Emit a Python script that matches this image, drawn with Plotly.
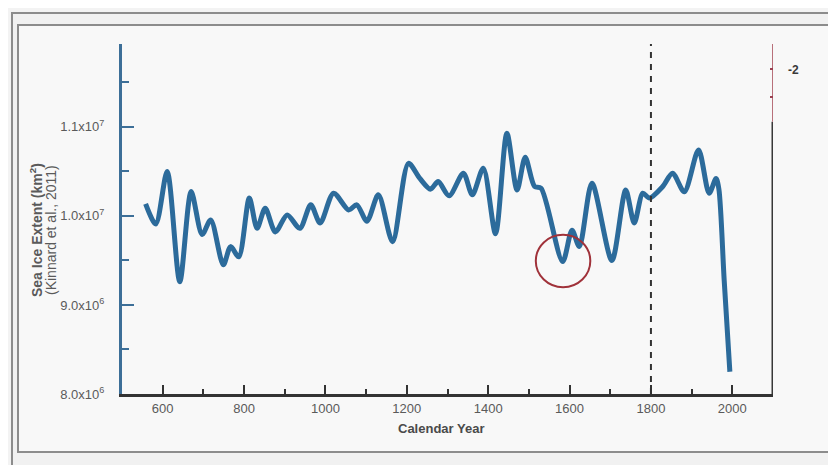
import plotly.graph_objects as go

# ---- data ----
years = [558, 583, 611, 642, 670, 697, 718, 749, 767, 787, 813, 832, 852, 877,
         906, 937, 964, 987, 1020, 1057, 1077, 1102, 1130, 1165, 1204, 1232,
         1258, 1277, 1304, 1339, 1361, 1388, 1418, 1446, 1471, 1491, 1514,
         1530, 1583, 1606, 1624, 1655, 1704, 1738, 1759, 1780, 1796, 1829,
         1853, 1882, 1917, 1943, 1960, 1967, 1980, 1994]
extent = [1.0135e7, 9.91e6, 1.0498e7, 9.26e6, 1.0273e7, 9.79e6, 9.955e6,
          9.45e6, 9.655e6, 9.54e6, 1.020e7, 9.86e6, 1.0086e7, 9.82e6,
          1.001e7, 9.86e6, 1.0124e7, 9.92e6, 1.0255e7, 1.0067e7, 1.0124e7,
          9.94e6, 1.0236e7, 9.71e6, 1.059e7, 1.042e7, 1.030e7, 1.0385e7,
          1.0225e7, 1.0479e7, 1.0236e7, 1.0535e7, 9.80e6, 1.0929e7, 1.029e7,
          1.0658e7, 1.033e7, 1.031e7, 9.487e6, 9.84e6, 9.655e6, 1.0367e7,
          9.50e6, 1.029e7, 9.92e6, 1.0255e7, 1.020e7, 1.033e7, 1.048e7,
          1.027e7, 1.074e7, 1.0255e7, 1.042e7, 1.030e7, 9.28e6, 8.25e6]

x_ticks = [600, 800, 1000, 1200, 1400, 1600, 1800, 2000]
y_ticks = [8.0e6, 9.0e6, 1.0e7, 1.1e7]
y_tick_labels = ["8.0x10<sup>6</sup>", "9.0x10<sup>6</sup>",
                 "1.0x10<sup>7</sup>", "1.1x10<sup>7</sup>"]
x_range = [500, 2100]
y_range = [8.0e6, 1.193e7]
marker_year = 1800
circle_box = [1517, 1651, 9.20e6, 9.787e6]
right_axis_split = 1.1056e7

# ---- layout geometry (pixels in the 836x465 window) ----
OFF = 8  # default page body margin
W, H = 836 - OFF, 465 - OFF
L, R, T, B = 122, 773, 44, 394
pw, ph = R - L, B - T


def px(xp):
    return (xp - L) / pw


def py(yp):
    return (B - yp) / ph


FONT = "Liberation Sans, Arial, sans-serif"
GREY_TXT = "#5a5a5a"
LINE_BLUE = "#2c6b9b"

fig = go.Figure()
fig.add_trace(go.Scatter(
    x=years, y=extent, mode="lines",
    line=dict(color=LINE_BLUE, width=5, shape="spline", smoothing=0.8),
    showlegend=False, hoverinfo="x+y"))

shapes = []
# outer window frame
shapes.append(dict(type="rect", xref="paper", yref="paper",
                   x0=px(12), x1=px(860), y0=py(13), y1=py(480),
                   line=dict(color="#8c8c8c", width=2), fillcolor="#f1f1f1",
                   layer="below"))
# inner chart frame
shapes.append(dict(type="rect", xref="paper", yref="paper",
                   x0=px(18), x1=px(832), y0=py(25), y1=py(452),
                   line=dict(color="#8c8c8c", width=2), fillcolor="#f8f8f8",
                   layer="below"))
# dashed marker at 1800
shapes.append(dict(type="line", xref="x", yref="y",
                   x0=marker_year, x1=marker_year, y0=y_range[0], y1=y_range[1],
                   line=dict(color="#333333", width=2, dash="6px,6px")))
# red circle
shapes.append(dict(type="circle", xref="x", yref="y",
                   x0=circle_box[0], x1=circle_box[1],
                   y0=circle_box[2], y1=circle_box[3],
                   line=dict(color="#a0323a", width=2)))
# right axis (dark part + red part)
shapes.append(dict(type="line", xref="x", yref="y",
                   x0=x_range[1], x1=x_range[1], y0=y_range[0], y1=right_axis_split,
                   line=dict(color="#383838", width=3)))
shapes.append(dict(type="line", xref="x", yref="y",
                   x0=x_range[1], x1=x_range[1], y0=right_axis_split, y1=y_range[1],
                   line=dict(color="#b8707a", width=2)))
for yy in (69, 97):
    shapes.append(dict(type="line", xref="paper", yref="paper",
                       x0=px(770), x1=px(773), y0=py(yy), y1=py(yy),
                       line=dict(color="#9a4050", width=2)))

annotations = [
    dict(text="<b>-2</b>", xref="paper", yref="paper", x=px(786), y=py(70),
         xanchor="left", yanchor="middle", showarrow=False,
         font=dict(family=FONT, size=12, color="#3a3a3a")),
    dict(text="<b>Sea Ice Extent (km<sup>2</sup>)</b>", xref="paper", yref="paper",
         x=px(36), y=py(230), textangle=-90, showarrow=False,
         xanchor="center", yanchor="middle",
         font=dict(family=FONT, size=14, color=GREY_TXT)),
    dict(text="(Kinnard et al., 2011)", xref="paper", yref="paper",
         x=px(51), y=py(230), textangle=-90, showarrow=False,
         xanchor="center", yanchor="middle",
         font=dict(family=FONT, size=14, color=GREY_TXT)),
    dict(text="<b>Calendar Year</b>", xref="paper", yref="paper",
         x=px(441), y=py(428), showarrow=False,
         xanchor="center", yanchor="middle",
         font=dict(family=FONT, size=13, color="#4a4a4a")),
]

fig.update_layout(
    width=W, height=H,
    margin=dict(l=L - OFF, r=W - (R - OFF), t=T - OFF, b=H - (B - OFF), pad=0),
    paper_bgcolor="#f3f3f3", plot_bgcolor="rgba(0,0,0,0)",
    shapes=shapes, annotations=annotations,
    font=dict(family=FONT, size=13, color=GREY_TXT),
    xaxis=dict(range=x_range, tickvals=x_ticks, ticks="inside", ticklen=9,
               tickwidth=2, tickcolor="#333333", showgrid=False, zeroline=False,
               showline=True, linecolor="#333333", linewidth=3,
               tickfont=dict(family=FONT, size=13, color=GREY_TXT),
               minor=dict(dtick=100, tick0=500, ticks="inside", ticklen=5,
                          tickwidth=2, tickcolor="#333333", showgrid=False)),
    yaxis=dict(range=y_range, tickvals=y_ticks, ticktext=y_tick_labels,
               ticks="inside", ticklen=12, tickwidth=2, tickcolor="#3d6f98",
               showgrid=False, zeroline=False, showline=True,
               linecolor="#3d6f98", linewidth=3, ticklabelstandoff=12,
               tickfont=dict(family=FONT, size=13, color=GREY_TXT),
               minor=dict(dtick=5e5, tick0=8e6, ticks="inside", ticklen=7,
                          tickwidth=2, tickcolor="#3d6f98", showgrid=False)),
)

fig.write_html("out.html")
